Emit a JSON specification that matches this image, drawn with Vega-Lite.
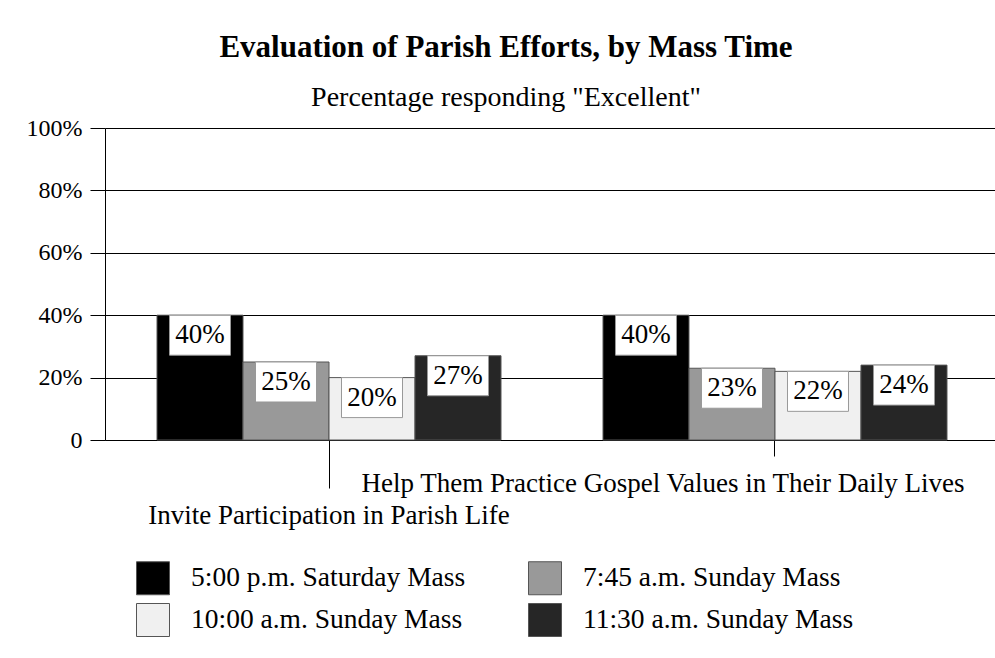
{
  "$schema": "https://vega.github.io/schema/vega-lite/v6.json",
  "width": 890,
  "height": 312,
  "autosize": {"type": "none"},
  "padding": {"left": 105, "top": 128, "right": 0, "bottom": 218},
  "background": "white",
  "title": {
    "text": "Evaluation of Parish Efforts, by Mass Time",
    "subtitle": "Percentage responding \"Excellent\"",
    "anchor": "middle",
    "frame": "group",
    "dx": -44,
    "offset": 3,
    "font": "Liberation Serif",
    "fontSize": 31,
    "fontWeight": "bold",
    "color": "#000000",
    "subtitleFont": "Liberation Serif",
    "subtitleFontSize": 28,
    "subtitleColor": "#000000",
    "subtitlePadding": 20
  },
  "data": {
    "values": [
      {"effort": "Invite Participation in Parish Life", "mass": "5:00 p.m. Saturday Mass", "pct": 40, "label": "40%"},
      {"effort": "Invite Participation in Parish Life", "mass": "7:45 a.m. Sunday Mass", "pct": 25, "label": "25%"},
      {"effort": "Invite Participation in Parish Life", "mass": "10:00 a.m. Sunday Mass", "pct": 20, "label": "20%"},
      {"effort": "Invite Participation in Parish Life", "mass": "11:30 a.m. Sunday Mass", "pct": 27, "label": "27%"},
      {"effort": "Help Them Practice Gospel Values in Their Daily Lives", "mass": "5:00 p.m. Saturday Mass", "pct": 40, "label": "40%"},
      {"effort": "Help Them Practice Gospel Values in Their Daily Lives", "mass": "7:45 a.m. Sunday Mass", "pct": 23, "label": "23%"},
      {"effort": "Help Them Practice Gospel Values in Their Daily Lives", "mass": "10:00 a.m. Sunday Mass", "pct": 22, "label": "22%"},
      {"effort": "Help Them Practice Gospel Values in Their Daily Lives", "mass": "11:30 a.m. Sunday Mass", "pct": 24, "label": "24%"}
    ]
  },
  "encoding": {
    "x": {
      "field": "effort",
      "type": "nominal",
      "sort": ["Invite Participation in Parish Life", "Help Them Practice Gospel Values in Their Daily Lives"],
      "scale": {"paddingInner": 0.2287, "paddingOuter": 0.11211, "align": 0.52},
      "axis": {
        "title": null,
        "domain": true,
        "domainColor": "#000000",
        "domainWidth": 1,
        "ticks": true,
        "tickColor": "#000000",
        "tickWidth": 1,
        "tickSize": {"condition": {"test": "datum.value === 'Invite Participation in Parish Life'", "value": 48}, "value": 16},
        "labelOffset": {"condition": {"test": "datum.value === 'Invite Participation in Parish Life'", "value": 0}, "value": -112},
        "labelPadding": 14,
        "labelAngle": 0,
        "labelFont": "Liberation Serif",
        "labelFontSize": 27,
        "labelColor": "#000000",
        "labelLimit": 2000,
        "labelOverlap": false,
        "labelBound": false,
        "labelFlush": false,
        "grid": false
      }
    },
    "xOffset": {
      "field": "mass",
      "type": "nominal",
      "sort": ["5:00 p.m. Saturday Mass", "7:45 a.m. Sunday Mass", "10:00 a.m. Sunday Mass", "11:30 a.m. Sunday Mass"],
      "scale": {"paddingInner": 0, "paddingOuter": 0}
    },
    "y": {
      "field": "pct",
      "type": "quantitative",
      "scale": {"domain": [0, 100], "nice": false},
      "axis": {
        "title": null,
        "values": [0, 20, 40, 60, 80, 100],
        "labelExpr": "datum.value == 0 ? '0' : datum.value + '%'",
        "domain": true,
        "domainColor": "#000000",
        "tickColor": "#000000",
        "tickSize": 15,
        "labelPadding": 8,
        "labelFont": "Liberation Serif",
        "labelFontSize": 24,
        "labelColor": "#000000",
        "grid": true,
        "gridColor": "#000000",
        "gridWidth": 1,
        "gridOpacity": 1
      }
    }
  },
  "layer": [
    {
      "mark": {"type": "bar", "stroke": "#555555", "strokeWidth": 1, "opacity": 1},
      "encoding": {
        "color": {
          "field": "mass",
          "type": "nominal",
          "sort": ["5:00 p.m. Saturday Mass", "7:45 a.m. Sunday Mass", "10:00 a.m. Sunday Mass", "11:30 a.m. Sunday Mass"],
          "scale": {"range": ["#000000", "#999999", "#f0f0f0", "#262626"]},
          "legend": {
            "title": null,
            "orient": "none",
            "legendX": 31,
            "legendY": 433,
            "direction": "horizontal",
            "columns": 2,
            "columnPadding": 60,
            "rowPadding": 4,
            "padding": 0,
            "symbolType": "square",
            "symbolSize": 1089,
            "symbolStrokeColor": "#555555",
            "symbolStrokeWidth": 1,
            "symbolOpacity": 1,
            "labelOffset": 21,
            "labelFont": "Liberation Serif",
            "labelFontSize": 27.5,
            "labelColor": "#000000",
            "labelLimit": 1000
          }
        }
      }
    },
    {
      "mark": {
        "type": "point",
        "shape": "M-1,0H1V1.311H-1Z",
        "size": 3721,
        "filled": true,
        "fill": "#ffffff",
        "stroke": "#999999",
        "strokeWidth": 1,
        "opacity": 1
      },
      "encoding": {}
    },
    {
      "mark": {
        "type": "text",
        "font": "Liberation Serif",
        "fontSize": 27,
        "color": "#000000",
        "baseline": "middle",
        "align": "center",
        "dy": 20
      },
      "encoding": {"text": {"field": "label"}}
    }
  ],
  "config": {
    "view": {"stroke": null},
    "font": "Liberation Serif"
  }
}
